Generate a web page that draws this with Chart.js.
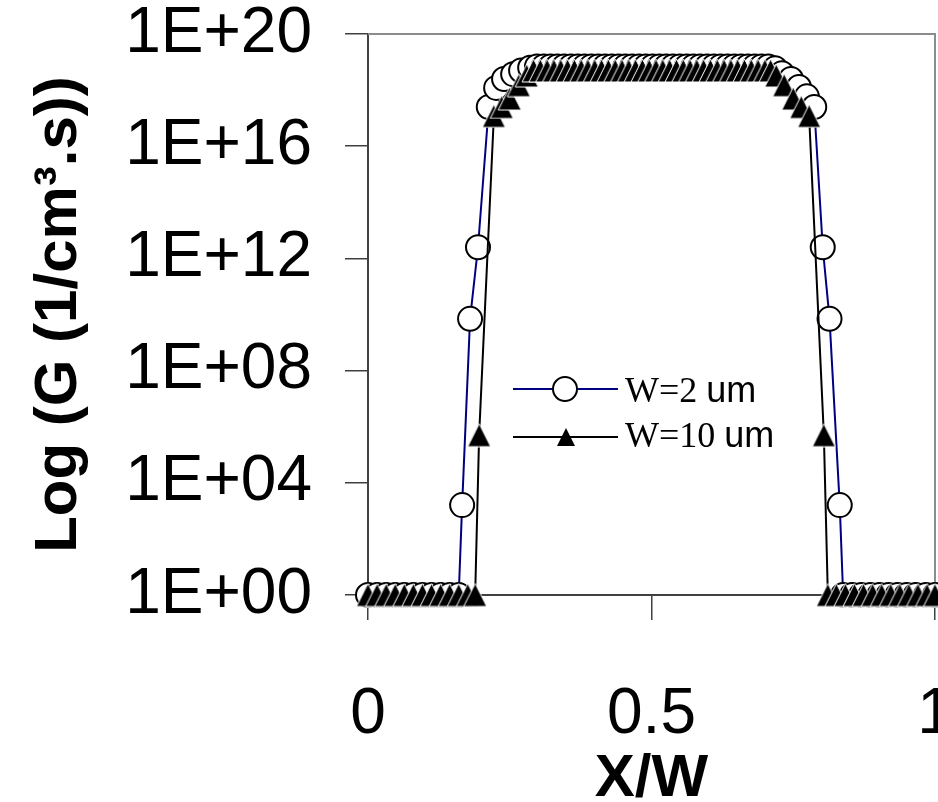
<!DOCTYPE html>
<html>
<head>
<meta charset="utf-8">
<script src="https://cdn.jsdelivr.net/npm/chart.js@4.4.0/dist/chart.umd.min.js"></script>
<style>
html, body { margin: 0; padding: 0; overflow: hidden; background: #fff; }
</style>
</head>
<body>
<canvas id="genChartArea" width="1000" height="850"></canvas>
<script>
const genChartArea = document.getElementById("genChartArea");

// W = 2 um  (x = X/W, G in 1/cm3.s)
var xW2 = [0, 0.016, 0.032, 0.048, 0.064, 0.08, 0.096, 0.112, 0.128, 0.144, 0.16,
    0.166, 0.18, 0.194, 0.213, 0.226, 0.24, 0.256, 0.27, 0.286,
    0.298, 0.31, 0.322, 0.334, 0.346, 0.358, 0.37, 0.382, 0.394, 0.406, 0.418, 0.43,
    0.442, 0.454, 0.466, 0.478, 0.49, 0.502, 0.514, 0.526, 0.538, 0.55, 0.562, 0.574,
    0.586, 0.598, 0.61, 0.622, 0.634, 0.646, 0.658, 0.67, 0.682, 0.694, 0.706,
    0.718, 0.73, 0.746, 0.76, 0.774, 0.787, 0.802, 0.814, 0.832,
    0.838, 0.854, 0.87, 0.886, 0.902, 0.918, 0.934, 0.95, 0.966, 0.984, 1.0];
var gW2 = [1, 1, 1, 1, 1, 1, 1, 1, 1, 1, 1,
    1.6e3, 7e9, 2.5e12, 2.5e17, 1.2e18, 2.5e18, 3.7e18, 5e18, 6.3e18,
    7e18, 7e18, 7e18, 7e18, 7e18, 7e18, 7e18, 7e18, 7e18, 7e18, 7e18, 7e18,
    7e18, 7e18, 7e18, 7e18, 7e18, 7e18, 7e18, 7e18, 7e18, 7e18, 7e18, 7e18,
    7e18, 7e18, 7e18, 7e18, 7e18, 7e18, 7e18, 7e18, 7e18, 7e18, 7e18,
    6e18, 4e18, 2.5e18, 1.3e18, 6e17, 2.5e17, 2.5e12, 7e9, 1.6e3,
    1, 1, 1, 1, 1, 1, 1, 1, 1, 1, 1];

// W = 10 um
var xW10 = [0, 0.016, 0.032, 0.048, 0.064, 0.08, 0.096, 0.112, 0.128, 0.144, 0.16, 0.176, 0.189,
    0.196, 0.222, 0.236, 0.25, 0.266, 0.28,
    0.292, 0.304, 0.316, 0.328, 0.34, 0.352, 0.364, 0.376, 0.388, 0.4, 0.412, 0.424,
    0.436, 0.448, 0.46, 0.472, 0.484, 0.496, 0.508, 0.52, 0.532, 0.544, 0.556, 0.568,
    0.58, 0.592, 0.604, 0.616, 0.628, 0.64, 0.652, 0.664, 0.676, 0.688, 0.7, 0.71,
    0.72, 0.734, 0.75, 0.764, 0.778, 0.804,
    0.811, 0.826, 0.842, 0.858, 0.874, 0.89, 0.906, 0.922, 0.938, 0.954, 0.97, 0.986, 1.0];
var gW10 = [1, 1, 1, 1, 1, 1, 1, 1, 1, 1, 1, 1, 1,
    5e5, 1.2e17, 2.5e17, 5e17, 1.5e18, 3.3e18,
    5e18, 5e18, 5e18, 5e18, 5e18, 5e18, 5e18, 5e18, 5e18, 5e18, 5e18, 5e18,
    5e18, 5e18, 5e18, 5e18, 5e18, 5e18, 5e18, 5e18, 5e18, 5e18, 5e18, 5e18,
    5e18, 5e18, 5e18, 5e18, 5e18, 5e18, 5e18, 5e18, 5e18, 5e18, 5e18, 5e18,
    3.3e18, 1.5e18, 5e17, 2.5e17, 1.2e17, 5e5,
    1, 1, 1, 1, 1, 1, 1, 1, 1, 1, 1, 1, 1];

var seriesLabels = ["W=2 um", "W=10 um"];
var xTickVals = [0, 0.5, 1];
var xTickLabels = ["0", "0.5", "1"];
var yTickVals = [1, 1e4, 1e8, 1e12, 1e16, 1e20];
var yTickLabels = ["1E+00", "1E+04", "1E+08", "1E+12", "1E+16", "1E+20"];

var genChart;

function toPoints(xs, ys) {
    return xs.map(function (x, i) { return { x: x, y: ys[i] }; });
}

//excel style triangle marker: black fill, thin white edge, centred on its box
function makeTriangle(size) {
    const c = document.createElement('canvas');
    c.width = size + 2;
    c.height = size + 2;
    const t = c.getContext('2d');
    t.beginPath();
    t.moveTo(c.width / 2, 1);
    t.lineTo(size + 1, size + 1);
    t.lineTo(1, size + 1);
    t.closePath();
    t.fillStyle = '#000';
    t.fill();
    t.strokeStyle = '#fff';
    t.lineWidth = 1;
    t.stroke();
    return c;
}
var triangleMarker = makeTriangle(23);

//grey top and right border of the plot box
const framePlugin = {
    id: 'frame',
    beforeDatasetsDraw(chart) {
        const ctx = chart.ctx;
        const a = chart.chartArea;
        ctx.save();
        ctx.strokeStyle = '#8c8c8c';
        ctx.lineWidth = 2;
        ctx.beginPath();
        ctx.moveTo(a.left, a.top);
        ctx.lineTo(a.right, a.top);
        ctx.lineTo(a.right, a.bottom);
        ctx.stroke();
        ctx.restore();
    }
};

//legend drawn inside the plot, like the original
const insideLegend = {
    id: 'insideLegend',
    afterDraw(chart) {
        const ctx = chart.ctx;
        const rows = [389, 437];
        chart.data.datasets.forEach(function (ds, i) {
            const y = rows[i];
            ctx.save();
            ctx.strokeStyle = ds.borderColor;
            ctx.lineWidth = 2;
            ctx.beginPath();
            ctx.moveTo(513, y);
            ctx.lineTo(618, y);
            ctx.stroke();
            ctx.beginPath();
            if (ds.pointStyle === 'circle') {
                ctx.fillStyle = ds.pointBackgroundColor;
                ctx.strokeStyle = ds.pointBorderColor;
                ctx.lineWidth = ds.pointBorderWidth;
                ctx.arc(565, y, 12, 0, Math.PI * 2);
                ctx.fill();
                ctx.stroke();
            } else {
                ctx.fillStyle = '#000';
                ctx.moveTo(566, y - 9);
                ctx.lineTo(575, y + 9);
                ctx.lineTo(557, y + 9);
                ctx.closePath();
                ctx.fill();
            }
            const parts = ds.label.split(' ');
            const base = i === 0 ? 402 : 447;
            ctx.fillStyle = '#000';
            ctx.textBaseline = 'alphabetic';
            ctx.font = '36px "Liberation Serif", "Times New Roman", serif';
            ctx.fillText(parts[0], 625, base);
            const w = ctx.measureText(parts[0] + ' ').width;
            ctx.font = '36px "Liberation Sans", Arial, sans-serif';
            ctx.fillText(parts[1], 625 + w, base);
            ctx.restore();
        });
    }
};

createGenChart();

function createGenChart() {
    genChart = new Chart(genChartArea, {
        type: 'line',
        data: {
            datasets: [{
                label: seriesLabels[0],
                data: toPoints(xW2, gW2),
                borderColor: '#000080',
                borderWidth: 2,
                pointStyle: 'circle',
                pointRadius: 12,
                pointBackgroundColor: '#ffffff',
                pointBorderColor: '#000000',
                pointBorderWidth: 2,
                tension: 0,
                clip: false,
                order: 1
            }, {
                label: seriesLabels[1],
                data: toPoints(xW10, gW10),
                borderColor: '#000000',
                borderWidth: 2,
                pointStyle: triangleMarker,
                pointRadius: 12,
                pointBackgroundColor: '#000000',
                pointBorderColor: '#ffffff',
                pointBorderWidth: 1,
                tension: 0,
                clip: false,
                order: 0
            }]
        },
        options: {
            responsive: false,
            animation: false,
            layout: { padding: { top: 34, right: 65, bottom: 35, left: 0 } },
            plugins: {
                legend: { display: false },
                tooltip: { enabled: false },
                title: { display: false }
            },
            scales: {
                x: {
                    type: 'linear',
                    min: 0,
                    max: 1,
                    afterBuildTicks: function (scale) {
                        scale.ticks = xTickVals.map(function (v) { return { value: v }; });
                    },
                    afterFit: function (scale) {
                        scale.height = 220;
                        scale.paddingLeft = 0;
                        scale.paddingRight = 0;
                    },
                    ticks: {
                        autoSkip: false,
                        maxRotation: 0,
                        padding: 57,
                        color: '#000',
                        font: { family: 'Arial, "Liberation Sans", sans-serif', size: 64 },
                        callback: function (value, index) { return xTickLabels[index]; }
                    },
                    grid: { drawOnChartArea: false, drawTicks: true, tickLength: 25, color: '#404040', lineWidth: 1.5 },
                    border: { display: true, color: '#404040', width: 2 },
                    title: {
                        display: true,
                        text: 'X/W',
                        color: '#000',
                        padding: { top: 0, bottom: 0 },
                        font: { family: 'Arial, "Liberation Sans", sans-serif', size: 60, weight: 'bold' }
                    }
                },
                y: {
                    type: 'logarithmic',
                    min: 1,
                    max: 1e20,
                    afterBuildTicks: function (scale) {
                        scale.ticks = yTickVals.map(function (v) { return { value: v }; });
                    },
                    afterFit: function (scale) {
                        scale.width = 368;
                        scale.paddingTop = 0;
                        scale.paddingBottom = 0;
                    },
                    ticks: {
                        autoSkip: false,
                        padding: 33,
                        color: '#000',
                        font: { family: 'Arial, "Liberation Sans", sans-serif', size: 64, lineHeight: 1 },
                        callback: function (value, index) { return yTickLabels[index]; }
                    },
                    grid: { drawOnChartArea: false, drawTicks: true, tickLength: 23, color: '#404040', lineWidth: 1.5 },
                    border: { display: true, color: '#404040', width: 2 },
                    title: {
                        display: true,
                        text: 'Log (G (1/cm\u00B3.s))',
                        color: '#000',
                        padding: { top: 23, bottom: 0 },
                        font: { family: 'Arial, "Liberation Sans", sans-serif', size: 60, weight: 'bold' }
                    }
                }
            }
        },
        plugins: [framePlugin, insideLegend]
    });
}
</script>
</body>
</html>
